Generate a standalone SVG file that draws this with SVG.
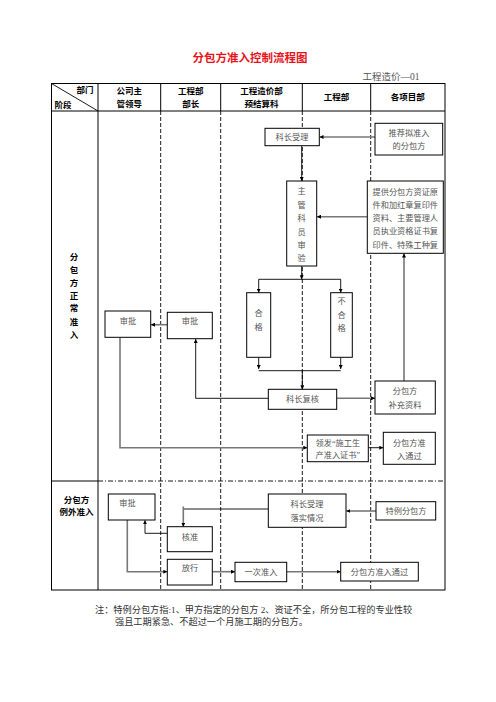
<svg xmlns="http://www.w3.org/2000/svg" width="496" height="702" viewBox="0 0 496 702">
<defs>
<style>
.t{font-family:"Liberation Serif","Noto Sans CJK SC",serif;fill:#555;font-size:8.2px;text-anchor:middle}
.h{font-family:"Liberation Sans","Noto Sans CJK SC",sans-serif;fill:#000;font-size:8.5px;font-weight:bold;text-anchor:middle}
.b{fill:#fff;stroke:#000;stroke-width:1}
.ln{fill:none;stroke:#000;stroke-width:0.9}
.gl{fill:none;stroke:#777;stroke-width:1.6}
.grid{fill:none;stroke:#000;stroke-width:1}
.dash{fill:none;stroke:#000;stroke-width:0.9;stroke-dasharray:4 2}
.dd{fill:none;stroke:#000;stroke-width:0.9;stroke-dasharray:5 2 1 2}
</style>
<marker id="a" viewBox="0 0 10 10" refX="10" refY="5" markerWidth="4" markerHeight="4" orient="auto" markerUnits="userSpaceOnUse">
<path d="M0,0 L10,5 L0,10 z" fill="#000"/>
</marker>
</defs>
<rect width="496" height="702" fill="#fff"/>
<text x="250" y="62" font-family="Liberation Sans,Noto Sans CJK SC,sans-serif" font-size="11.5" font-weight="bold" fill="#e8141c" text-anchor="middle">分包方准入控制流程图</text>
<text x="391" y="80" font-family="Liberation Serif,Noto Sans CJK SC,serif" font-size="9.5" fill="#555" text-anchor="middle">工程造价—01</text>
<g id="grid">
<rect x="51.5" y="83.5" width="393.5" height="506.5" class="grid"/>
<line x1="51.5" y1="111" x2="445" y2="111" class="grid"/>
<line x1="98" y1="83.5" x2="98" y2="590" class="grid"/>
<line x1="51.5" y1="83.5" x2="98" y2="111" class="ln"/>
<line x1="160.7" y1="83.5" x2="160.7" y2="111" class="grid"/>
<line x1="220.7" y1="83.5" x2="220.7" y2="111" class="grid"/>
<line x1="302.3" y1="83.5" x2="302.3" y2="111" class="grid"/>
<line x1="370.7" y1="83.5" x2="370.7" y2="111" class="grid"/>
<line x1="160.7" y1="111" x2="160.7" y2="590" class="dash"/>
<line x1="220.7" y1="111" x2="220.7" y2="590" class="dash"/>
<line x1="302.3" y1="111" x2="302.3" y2="590" class="dash"/>
<line x1="370.7" y1="111" x2="370.7" y2="590" class="dash"/>
<line x1="51.5" y1="481" x2="98" y2="481" class="grid"/>
<line x1="98" y1="481" x2="445" y2="481" class="dd"/>
</g>
<g id="header">
<text x="85" y="93" class="h">部门</text>
<text x="63" y="108" class="h">阶段</text>
<text x="129.3" y="94" class="h">公司主</text>
<text x="129.3" y="107" class="h">管领导</text>
<text x="190.7" y="94" class="h">工程部</text>
<text x="190.7" y="107" class="h">部长</text>
<text x="261.5" y="94" class="h">工程造价部</text>
<text x="261.5" y="107" class="h">预结算科</text>
<text x="336.5" y="100" class="h">工程部</text>
<text x="407.8" y="100" class="h">各项目部</text>
</g>
<g id="stage1">
<text x="74" y="260" class="h">分</text>
<text x="74" y="273" class="h">包</text>
<text x="74" y="286" class="h">方</text>
<text x="74" y="299" class="h">正</text>
<text x="74" y="311" class="h">常</text>
<text x="74" y="325" class="h">准</text>
<text x="74" y="338" class="h">入</text>
</g>
<g id="stage2">
<text x="76.5" y="503" class="h">分包方</text>
<text x="76.5" y="515" class="h">例外准入</text>
</g>
<g id="connectors">
<line x1="375" y1="137" x2="319.5" y2="137" class="gl" marker-end="url(#a)"/>
<line x1="301.7" y1="146" x2="301.7" y2="181" class="ln" marker-end="url(#a)"/>
<line x1="367.3" y1="216.7" x2="317" y2="216.7" class="gl" marker-end="url(#a)"/>
<line x1="404" y1="381" x2="404" y2="253.5" class="gl" marker-end="url(#a)"/>
<line x1="301.7" y1="266" x2="301.7" y2="279.3" class="ln" marker-end="url(#a)"/>
<line x1="258.7" y1="279.3" x2="340.7" y2="279.3" class="ln"/>
<line x1="258.7" y1="279.3" x2="258.7" y2="292.7" class="ln" marker-end="url(#a)"/>
<line x1="340.7" y1="279.3" x2="340.7" y2="292.7" class="ln" marker-end="url(#a)"/>
<line x1="258.7" y1="357.3" x2="258.7" y2="369" class="ln" marker-end="url(#a)"/>
<line x1="340.7" y1="357.3" x2="340.7" y2="369" class="ln" marker-end="url(#a)"/>
<line x1="258.7" y1="370.7" x2="340.7" y2="370.7" class="ln"/>
<line x1="302.3" y1="370.7" x2="302.3" y2="389.3" class="ln" marker-end="url(#a)"/>
<polyline points="268.3,398.3 195.7,398.3 195.7,339" class="ln" marker-end="url(#a)"/>
<line x1="336.7" y1="398.3" x2="375" y2="398.3" class="gl" marker-end="url(#a)"/>
<line x1="167.3" y1="324.7" x2="151" y2="324.7" class="gl" marker-end="url(#a)"/>
<polyline points="120,337.3 120,447.7 307.3,447.7" class="gl" marker-end="url(#a)"/>
<line x1="368.3" y1="447.7" x2="383.3" y2="447.7" class="ln" marker-end="url(#a)"/>
<line x1="376" y1="511" x2="346.3" y2="511" class="gl" marker-end="url(#a)"/>
<line x1="268.3" y1="509" x2="183.3" y2="509" class="ln"/>
<line x1="183.3" y1="506.5" x2="183.3" y2="526.7" class="gl" marker-end="url(#a)"/>
<polyline points="167.3,533.3 145,533.3 145,520.3" class="ln" marker-end="url(#a)"/>
<polyline points="127.3,520 127.3,571.7 167.3,571.7" class="gl" marker-end="url(#a)"/>
<line x1="212.3" y1="571.7" x2="235" y2="571.7" class="gl" marker-end="url(#a)"/>
<line x1="286.7" y1="571.7" x2="340.7" y2="571.7" class="gl" marker-end="url(#a)"/>
</g>
<g id="n1"><rect x="265" y="128.3" width="54.3" height="17.4" class="b"/><text x="292" y="140" class="t">科长受理</text></g>
<g id="n2"><rect x="375" y="123.3" width="67.7" height="31.7" class="b"/><text x="409" y="136" class="t">推荐拟准入</text><text x="409" y="149" class="t">的分包方</text></g>
<g id="n3"><rect x="286.7" y="181" width="30" height="85" class="b"/>
<text x="301.7" y="194" class="t">主</text><text x="301.7" y="207.5" class="t">管</text><text x="301.7" y="221" class="t">科</text><text x="301.7" y="234.5" class="t">员</text><text x="301.7" y="248" class="t">审</text><text x="301.7" y="261" class="t">验</text></g>
<g id="n4"><rect x="367.3" y="181" width="76" height="72.3" class="b"/>
<text x="405.3" y="194.5" class="t" font-size="7.2">提供分包方资证原</text>
<text x="405.3" y="207.5" class="t" font-size="7.2">件和加红章复印件</text>
<text x="405.3" y="220.5" class="t" font-size="7.2">资料、主要管理人</text>
<text x="405.3" y="234" class="t" font-size="7.2">员执业资格证书复</text>
<text x="405.3" y="247.5" class="t" font-size="7.2">印件、特殊工种复</text></g>
<g id="n5"><rect x="246.7" y="292.7" width="24" height="64.6" class="b"/><text x="258.7" y="316" class="t">合</text><text x="258.7" y="330" class="t">格</text></g>
<g id="n6"><rect x="330.7" y="292.7" width="21.6" height="64.6" class="b"/><text x="341.5" y="304" class="t">不</text><text x="341.5" y="317.5" class="t">合</text><text x="341.5" y="331" class="t">格</text></g>
<g id="n7"><rect x="268.3" y="389.3" width="68.4" height="20" class="b"/><text x="302.5" y="402" class="t">科长复核</text></g>
<g id="n8"><rect x="375" y="381" width="60.3" height="33" class="b"/><text x="405" y="394" class="t">分包方</text><text x="405" y="408" class="t">补充资料</text></g>
<g id="n9"><rect x="105" y="311" width="45.7" height="26.3" class="b"/><text x="128" y="323.5" class="t">审批</text></g>
<g id="n10"><rect x="167.3" y="312.3" width="45" height="26.4" class="b"/><text x="190" y="324" class="t">审批</text></g>
<g id="n11"><rect x="307.3" y="435" width="61" height="26.7" class="b"/><text x="337.8" y="446" class="t" font-size="7.4">领发“施工生</text><text x="337.8" y="457.5" class="t" font-size="7.4">产准入证书”</text></g>
<g id="n12"><rect x="383.3" y="432.3" width="52" height="32" class="b"/><text x="409.3" y="446" class="t">分包方准</text><text x="409.3" y="459" class="t">入通过</text></g>
<g id="n13"><rect x="108.3" y="494" width="46.7" height="26" class="b"/><text x="127.5" y="506" class="t">审批</text></g>
<g id="n14"><rect x="268.3" y="494" width="77.7" height="33.3" class="b"/><text x="307" y="507" class="t">科长受理</text><text x="307" y="521" class="t">落实情况</text></g>
<g id="n15"><rect x="376" y="501.7" width="59.7" height="18.3" class="b"/><text x="406" y="513.5" class="t">特例分包方</text></g>
<g id="n16"><rect x="167.3" y="526.7" width="45" height="25" class="b"/><text x="190" y="539.5" class="t">核准</text></g>
<g id="n17"><rect x="167.3" y="559.3" width="45" height="25.7" class="b"/><text x="190" y="570.5" class="t">放行</text></g>
<g id="n18"><rect x="235" y="562.3" width="51.7" height="19.4" class="b"/><text x="261" y="575" class="t">一次准入</text></g>
<g id="n19"><rect x="340.7" y="562.3" width="77.6" height="18.7" class="b"/><text x="379.5" y="575" class="t">分包方准入通过</text></g>
<g id="note">
<text x="95" y="613" font-family="Liberation Serif,Noto Sans CJK SC,serif" font-size="9.2" fill="#333">注：特例分包方指:1、甲方指定的分包方 2、资证不全，所分包工程的专业性较</text>
<text x="115" y="625" font-family="Liberation Serif,Noto Sans CJK SC,serif" font-size="9.2" fill="#333">强且工期紧急、不超过一个月施工期的分包方。</text>
</g>
</svg>
